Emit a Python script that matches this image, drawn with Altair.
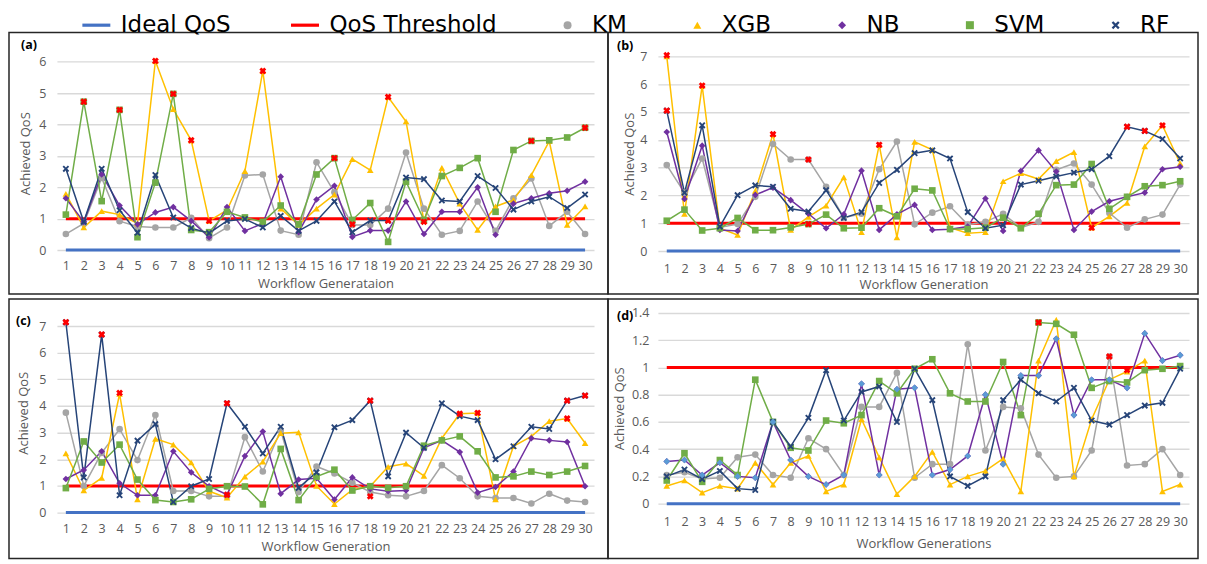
import altair as alt
import pandas as pd

X = list(range(1, 31))
SERIES = ["KM", "XGB", "NB", "SVM", "RF"]
ALL = ["Ideal QoS", "QoS Threshold"] + SERIES
COLORS = ["#4472C4", "#FF0000", "#A5A5A5", "#FFC000", "#7030A0", "#70AD47", "#264478"]
NB_LIGHT = "#5B9BD5"
IDEAL_QOS = 0
QOS_THRESHOLD = 1

# ---- panel (a)
A_KM = [0.51, 0.85, 2.3, 0.92, 0.75, 0.72, 0.72, 1.03, 0.38, 0.72, 2.38, 2.41, 0.62, 0.49, 2.8,
        1.84, 0.8, 0.8, 1.32, 3.11, 1.32, 0.49, 0.61, 1.55, 0.61, 1.65, 2.28, 0.77, 1.22, 0.51]
A_XGB = [1.79, 0.72, 1.24, 1.13, 0.85, 6.03, 4.49, 3.5, 0.93, 1.27, 2.52, 5.71, 1.32, 0.8, 1.32,
         1.77, 2.9, 2.55, 4.88, 4.1, 0.93, 2.62, 1.48, 0.64, 1.39, 1.6, 2.39, 3.47, 0.8, 1.39]
A_NB = [1.65, 0.9, 2.41, 1.42, 0.82, 1.2, 1.37, 0.93, 0.41, 1.37, 0.61, 0.85, 2.34, 0.57, 1.61,
        2.05, 0.42, 0.62, 0.62, 1.55, 0.51, 1.22, 1.22, 2.0, 0.49, 1.48, 1.65, 1.81, 1.89, 2.18]
A_SVM = [1.13, 4.73, 1.56, 4.47, 0.41, 2.15, 4.98, 0.64, 0.57, 1.22, 1.04, 0.9, 1.42, 0.82, 2.41,
         2.93, 0.96, 1.5, 0.26, 2.18, 0.96, 2.36, 2.62, 2.93, 1.22, 3.19, 3.48, 3.5, 3.59, 3.9]
A_RF = [2.59, 0.9, 2.59, 1.27, 0.55, 2.39, 1.04, 0.7, 0.54, 0.93, 0.99, 0.72, 1.09, 0.61, 0.93,
        1.55, 0.57, 0.94, 0.94, 2.31, 2.26, 1.58, 1.55, 2.36, 1.98, 1.29, 1.55, 1.7, 1.34, 1.77]
A_VX = [2, 4, 6, 7, 8, 9, 12, 16, 17, 19, 19, 21, 27, 30]
A_VY = [4.73, 4.47, 6.03, 4.98, 3.5, 0.93, 5.71, 2.93, 0.82, 4.88, 0.94, 0.9, 3.48, 3.9]

# ---- panel (b)
B_KM = [3.09, 2.1, 3.33, 0.85, 0.97, 1.95, 3.85, 3.29, 3.29, 2.31, 1.2, 1.34, 2.94, 3.94, 0.96,
        1.38, 1.61, 0.95, 1.05, 1.34, 0.84, 1.05, 2.92, 3.15, 2.39, 1.37, 0.84, 1.14, 1.31, 2.39]
B_XGB = [7.0, 1.34, 5.95, 0.82, 0.58, 2.16, 4.2, 0.76, 1.23, 1.63, 2.65, 0.68, 3.82, 0.49, 3.93,
         3.64, 0.84, 0.64, 0.68, 2.51, 2.8, 2.59, 3.23, 3.56, 0.84, 1.25, 1.73, 3.76, 4.52, 3.15]
B_NB = [4.28, 1.87, 3.79, 0.76, 0.72, 2.02, 2.28, 1.83, 1.34, 0.82, 1.32, 2.89, 0.76, 1.32, 1.66,
        0.76, 0.78, 0.88, 1.89, 0.72, 2.88, 3.62, 2.86, 0.76, 1.42, 1.79, 1.95, 2.1, 2.94, 3.03]
B_SVM = [1.09, 1.49, 0.74, 0.82, 1.19, 0.75, 0.75, 0.85, 0.97, 1.31, 0.82, 0.84, 1.54, 1.25, 2.24,
         2.18, 0.79, 0.79, 0.84, 1.2, 0.82, 1.34, 2.37, 2.39, 3.13, 1.52, 1.95, 2.33, 2.37, 2.51]
B_RF = [5.05, 2.1, 4.52, 0.88, 2.01, 2.36, 2.31, 1.52, 1.42, 2.19, 1.19, 1.4, 2.45, 2.92, 3.52,
        3.62, 3.33, 1.4, 0.82, 0.93, 2.39, 2.53, 2.68, 2.82, 2.94, 3.41, 4.47, 4.32, 4.03, 3.33]
B_VX = [1, 1, 3, 7, 9, 9, 13, 25, 27, 28, 29]
B_VY = [7.04, 5.05, 5.95, 4.2, 3.29, 0.97, 3.82, 0.84, 4.47, 4.32, 4.52]

# ---- panel (c)
C_KM = [3.75, 1.0, 2.24, 3.13, 1.97, 3.66, 0.81, 0.81, 0.61, 0.61, 2.83, 1.54, 3.08, 0.77, 1.73,
        1.47, 1.12, 0.77, 0.65, 0.61, 0.81, 1.78, 1.29, 0.61, 0.55, 0.55, 0.34, 0.71, 0.45, 0.4]
C_XGB = [2.22, 0.83, 1.3, 4.45, 0.5, 2.77, 2.55, 1.88, 0.8, 0.56, 1.35, 1.91, 2.98, 3.01, 1.0,
         0.32, 0.86, 0.99, 1.72, 1.84, 1.38, 2.79, 3.71, 3.74, 0.5, 2.49, 2.86, 3.43, 3.53, 2.61]
C_NB = [1.26, 1.6, 2.3, 1.1, 0.65, 0.65, 2.3, 1.51, 0.99, 0.67, 2.12, 3.04, 0.71, 1.24, 1.29,
        0.49, 1.32, 0.89, 0.8, 0.83, 2.43, 2.71, 2.27, 0.75, 0.96, 1.54, 2.79, 2.71, 2.65, 0.99]
C_SVM = [0.92, 2.67, 1.88, 2.55, 1.24, 0.47, 0.4, 0.5, 0.89, 0.99, 0.98, 0.31, 2.39, 0.47, 1.35,
         1.61, 0.83, 0.99, 0.93, 0.99, 2.51, 2.71, 2.86, 2.3, 1.32, 1.36, 1.54, 1.41, 1.54, 1.75]
C_RF = [7.14, 1.32, 6.68, 0.65, 2.7, 3.32, 0.4, 0.99, 1.26, 4.1, 3.22, 2.22, 3.22, 0.93, 1.51,
        3.2, 3.47, 4.2, 1.36, 3.0, 2.43, 4.1, 3.62, 3.47, 2.0, 2.49, 3.22, 3.14, 4.2, 4.39]
C_VX = [1, 3, 4, 10, 10, 18, 18, 23, 24, 29, 29, 30]
C_VY = [7.14, 6.68, 4.49, 4.1, 0.67, 4.2, 0.61, 3.71, 3.74, 4.2, 3.53, 4.39]

# ---- panel (d)
D_KM = [0.21, 0.23, 0.18, 0.19, 0.34, 0.36, 0.21, 0.19, 0.48, 0.4, 0.21, 0.71, 0.71, 0.96, 0.19,
        0.29, 0.29, 1.17, 0.39, 0.71, 0.7, 0.36, 0.19, 0.2, 0.39, 1.08, 0.28, 0.29, 0.4, 0.21]
D_XGB = [0.13, 0.17, 0.08, 0.13, 0.11, 0.3, 0.14, 0.3, 0.35, 0.09, 0.14, 0.62, 0.34, 0.07, 0.2,
         0.38, 0.14, 0.2, 0.24, 0.33, 0.09, 1.05, 1.35, 0.2, 0.62, 0.91, 0.97, 1.05, 0.09, 0.14]
D_NB = [0.31, 0.32, 0.21, 0.3, 0.2, 0.19, 0.6, 0.32, 0.2, 0.14, 0.21, 0.88, 0.21, 0.84, 0.85,
        0.21, 0.25, 0.35, 0.8, 0.29, 0.94, 0.94, 1.21, 0.65, 0.91, 0.91, 0.85, 1.25, 1.05, 1.09]
D_SVM = [0.17, 0.37, 0.16, 0.32, 0.21, 0.91, 0.6, 0.41, 0.39, 0.61, 0.59, 0.65, 0.9, 0.81, 0.99,
         1.06, 0.81, 0.75, 0.75, 1.04, 0.65, 1.33, 1.32, 1.24, 0.85, 0.9, 0.89, 0.98, 0.99, 1.01]
D_RF = [0.2, 0.25, 0.18, 0.24, 0.11, 0.1, 0.6, 0.42, 0.63, 0.98, 0.61, 0.82, 0.86, 0.6, 0.99,
        0.76, 0.2, 0.13, 0.2, 0.76, 0.91, 0.81, 0.75, 0.85, 0.61, 0.58, 0.65, 0.72, 0.74, 0.99]
D_VX = [22, 26, 27]
D_VY = [1.33, 1.08, 0.98]

FONT = "Open Sans"
GREY_TXT = "#595959"

RF_PATH = "M-1,-0.6L-0.6,-1L0,-0.4L0.6,-1L1,-0.6L0.4,0L1,0.6L0.6,1L0,0.4L-0.6,1L-1,0.6L-0.4,0Z"
LINE_PATH = "M-3.5,-0.4L3.5,-0.4L3.5,0.4L-3.5,0.4Z"
SHAPE_RANGE = [LINE_PATH, LINE_PATH, "circle", "triangle-up", "diamond", "square", RF_PATH]

LEGEND = alt.Legend(title=None, orient="none", legendX=28, legendY=-43,
                    direction="horizontal", labelFont="DejaVu Sans", labelFontSize=23,
                    labelColor="#000000", labelLimit=500, symbolSize=64, labelOffset=13,
                    columnPadding=59, padding=0)

color_scale = alt.Scale(domain=ALL, range=COLORS)
shape_scale = alt.Scale(domain=ALL, range=SHAPE_RANGE)
# line colours: a separate scale (its domain differs so it is not merged with the legend)
stroke_scale = alt.Scale(domain=ALL + ["other"], range=COLORS + ["#000000"])


def panel(tag, vals, vx, vy, ydom, yvals, fmt, W, H, L, R, T, B, xtitle, tag_xy,
          xlab_pad, xt_pad, ylab_pad, yt_pad, nb_light=False):
    rows = []
    for s, v in zip(SERIES, vals):
        for x, y in zip(X, v):
            rows.append({"x": x, "y": y, "series": s})
    df = pd.DataFrame(rows)
    ref = pd.DataFrame(
        [{"x": x, "y": IDEAL_QOS, "series": "Ideal QoS"} for x in X]
        + [{"x": x, "y": QOS_THRESHOLD, "series": "QoS Threshold"} for x in X])
    vdf = pd.DataFrame({"x": vx, "y": vy})

    xenc = alt.X("x:O", scale=alt.Scale(type="point", padding=0.5, domain=X),
                 axis=alt.Axis(title=xtitle, labelAngle=0, labelOverlap=False, domain=False,
                               ticks=False, grid=False, labelPadding=xlab_pad,
                               titlePadding=xt_pad, labelFontSize=12.5, titleFontSize=13,
                               labelColor=GREY_TXT, titleColor=GREY_TXT,
                               titleFontWeight="normal"))
    yenc = alt.Y("y:Q", scale=alt.Scale(domain=[0, ydom], nice=False, zero=True),
                 axis=alt.Axis(title="Achieved QoS", values=yvals, format=fmt, domain=False,
                               ticks=False, grid=True, gridColor="#D9D9D9", gridWidth=1.4,
                               labelPadding=ylab_pad, titlePadding=yt_pad, labelFontSize=12.5,
                               titleFontSize=13, labelColor=GREY_TXT, titleColor=GREY_TXT,
                               titleFontWeight="normal"))

    one = pd.DataFrame({"t": [tag]})
    border = alt.Chart(one).mark_rect(fillOpacity=0, stroke="#262626", strokeWidth=1.5).encode(
        x=alt.value(-L), x2=alt.value(W + R), y=alt.value(-T), y2=alt.value(H + B))
    label = alt.Chart(one).mark_text(align="left", baseline="middle", fontWeight="bold",
                                     fontSize=12.5, font=FONT, color="#000").encode(
        text="t:N", x=alt.value(tag_xy[0]), y=alt.value(tag_xy[1]))

    ref_lines = alt.Chart(ref).mark_line(strokeWidth=3).encode(
        x=xenc, y=yenc, stroke=alt.Stroke("series:N", scale=stroke_scale, legend=None))
    lines = alt.Chart(df).mark_line(strokeWidth=1.5).encode(
        x=xenc, y=yenc, stroke=alt.Stroke("series:N", scale=stroke_scale, legend=None))
    points = alt.Chart(df).mark_point(filled=True, opacity=1, size=44, strokeWidth=0).encode(
        x=xenc, y=yenc,
        color=alt.Color("series:N", scale=color_scale, legend=LEGEND),
        shape=alt.Shape("series:N", scale=shape_scale, legend=LEGEND))
    layers = [border, ref_lines, lines, points]
    if nb_light:
        layers.append(alt.Chart(df).transform_filter(alt.datum.series == "NB")
                      .mark_point(shape="diamond", filled=True, opacity=1, size=44,
                                  strokeWidth=0, color=NB_LIGHT)
                      .encode(x=xenc, y=yenc))
    layers.append(alt.Chart(vdf).mark_point(shape="cross", angle=45, filled=True, opacity=1,
                                            size=48, color="#FF0000", strokeWidth=0)
                  .encode(x=xenc, y=yenc))
    layers.append(label)
    return alt.layer(*layers).properties(width=W, height=H)


pa = panel("(a)", [A_KM, A_XGB, A_NB, A_SVM, A_RF], A_VX, A_VY, 6.175, list(range(7)), "d",
           538, 194, 48, 14, 24, 44, "Workflow Generataion", (-36, -11),
           xlab_pad=9, xt_pad=6, ylab_pad=11, yt_pad=6)
pb = panel("(b)", [B_KM, B_XGB, B_NB, B_SVM, B_RF], B_VX, B_VY, 7, list(range(8)), "d",
           532, 195, 50, 9, 24, 43, "Workflow Generation", (-41, -10),
           xlab_pad=11, xt_pad=4, ylab_pad=11, yt_pad=3)
pc = panel("(c)", [C_KM, C_XGB, C_NB, C_SVM, C_RF], C_VX, C_VY, 7.49, list(range(8)), "d",
           538, 200, 48, 14, 14, 46, "Workflow Generation", (-41, 8),
           xlab_pad=10, xt_pad=5, ylab_pad=11, yt_pad=8)
pd_ = panel("(d)", [D_KM, D_XGB, D_NB, D_SVM, D_RF], D_VX, D_VY, 1.4,
            [0, 0.2, 0.4, 0.6, 0.8, 1.0, 1.2, 1.4], ".1~f",
            532, 191, 50, 9, 14, 55, "Workflow Generations", (-41, 3),
            xlab_pad=12, xt_pad=9, ylab_pad=9, yt_pad=5, nb_light=True)

chart = (alt.concat(pa, pb, pc, pd_, columns=2, spacing={"row": 57, "column": 64},
                    align="all", bounds="flush")
         .properties(padding={"left": 0, "top": 5, "right": 0, "bottom": 0})
         .configure(font=FONT)
         .configure_view(stroke=None))

chart.save("out.html", embed_options={"renderer": "svg", "actions": False})
